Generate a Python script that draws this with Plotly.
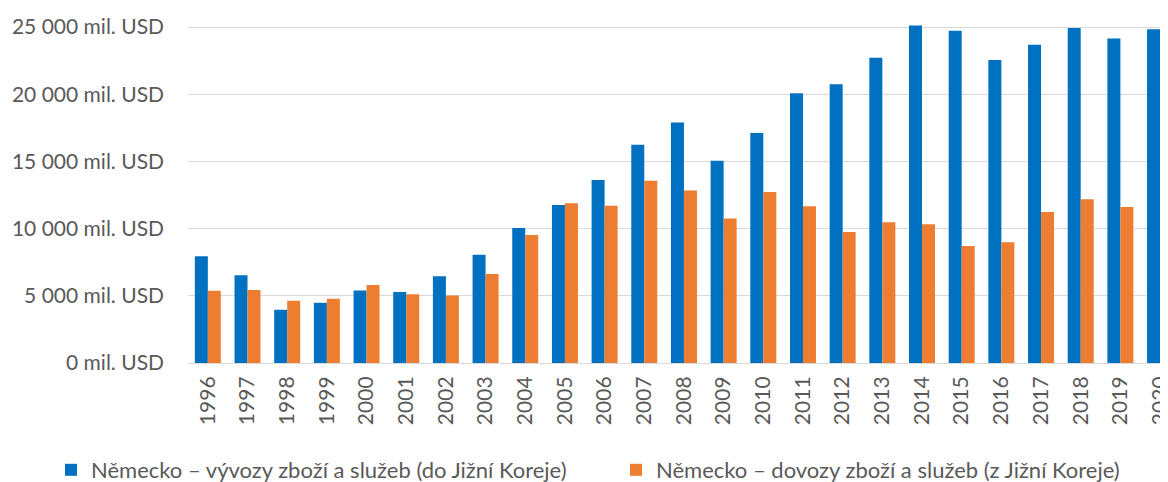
import plotly.graph_objects as go

years = [str(y) for y in range(1996, 2021)]

# mil. USD
vyvoz = [7950, 6530, 3960, 4480, 5390, 5290, 6460, 8060, 10040, 11750,
         13610, 16230, 17890, 15040, 17120, 20070, 20740, 22720, 25120, 24720,
         22540, 23680, 24920, 24150, 24840]
dovoz = [5370, 5440, 4630, 4780, 5810, 5120, 5020, 6630, 9530, 11880,
         11700, 13560, 12840, 10760, 12720, 11660, 9750, 10470, 10320, 8710,
         8980, 11230, 12180, 11600, 12670]

tick_vals = [0, 5000, 10000, 15000, 20000, 25000]
tick_text = ["0 mil. USD", "5 000 mil. USD", "10 000 mil. USD",
             "15 000 mil. USD", "20 000 mil. USD", "25 000 mil. USD"]

font_family = "Lato, Open Sans, sans-serif"
grey = "#595959"

# page body has an 8px margin, so the figure is a bit smaller than the window
W, H = 1160, 474

fig = go.Figure()
fig.add_trace(go.Bar(
    x=years, y=vyvoz,
    name="Německo – vývozy zboží a služeb (do Jižní Koreje)",
    marker=dict(color="#0070c0", line=dict(width=0)),
    legend="legend", showlegend=True,
))
fig.add_trace(go.Bar(
    x=years, y=dovoz,
    name="Německo – dovozy zboží a služeb (z Jižní Koreje)",
    marker=dict(color="#ed7d31", line=dict(width=0)),
    legend="legend2", showlegend=True,
))

legend_common = dict(
    orientation="h",
    xref="container", xanchor="left",
    yref="container", y=1 - 462 / H, yanchor="middle",
    font=dict(size=22, color=grey),
    bgcolor="rgba(0,0,0,0)",
)

fig.update_layout(
    width=W, height=H,
    showlegend=True,
    margin=dict(l=180, r=0, t=0, b=119, autoexpand=False),
    barmode="group", bargap=0.345, bargroupgap=0,
    plot_bgcolor="white", paper_bgcolor="white",
    font=dict(family=font_family, size=21, color=grey),
    legend=dict(legend_common, x=43 / W),
    legend2=dict(legend_common, x=608 / W),
)
fig.update_xaxes(
    type="category", range=[-0.5, 24.2], tickangle=-90,
    showgrid=False, showline=True, linecolor="#d9d9d9", linewidth=1,
    ticks="", ticklabelstandoff=4,
    tickfont=dict(size=21, color=grey), automargin=False,
)
fig.update_yaxes(
    range=[0, 26414], tickvals=tick_vals, ticktext=tick_text,
    showgrid=True, gridcolor="#d9d9d9", gridwidth=1,
    zeroline=False, ticks="", ticklabelstandoff=23,
    tickfont=dict(size=21, color=grey), automargin=False,
)

fig.write_html("out.html")
